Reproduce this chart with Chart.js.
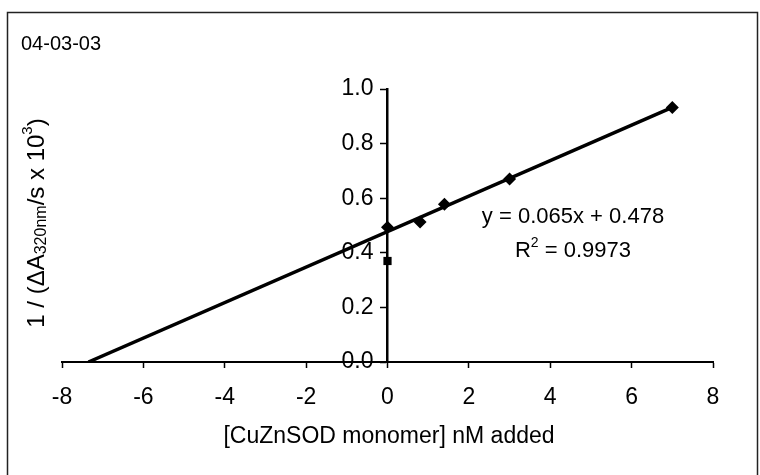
<!DOCTYPE html>
<html>
<head>
<meta charset="utf-8">
<script src="https://cdn.jsdelivr.net/npm/chart.js@4.4.0/dist/chart.umd.min.js"></script>
<style>
  body { margin: 0; background: #fff; }
  canvas { display: block; }
</style>
</head>
<body>
<canvas id="plot" width="760" height="475"></canvas>
<script>
// values
const pointX = [0, 0.8, 1.4, 3.0, 7.0];
const pointY = [0.494, 0.513, 0.578, 0.670, 0.932];
const blankX = [0];
const blankY = [0.37];
const trendX = [-7.35, 7.0];
const trendY = [0.0, 0.933];
const xTicks = [-8, -6, -4, -2, 0, 2, 4, 6, 8];
const yTicks = [0, 0.2, 0.4, 0.6, 0.8, 1.0];

const FONT = "'Liberation Sans', Arial, sans-serif";
Chart.defaults.font.family = FONT;
Chart.defaults.color = '#000';

const toXY = (xs, ys) => xs.map((x, i) => ({ x: x, y: ys[i] }));

// draw runs of text with different sizes / vertical shifts, centred on 0
function drawRuns(ctx, parts) {
    let total = 0;
    parts.forEach(p => {
        ctx.font = p.size + 'px ' + FONT;
        p.w = ctx.measureText(p.t).width;
        total += p.w;
    });
    let px = -total / 2;
    ctx.textAlign = 'left';
    parts.forEach(p => {
        ctx.font = p.size + 'px ' + FONT;
        ctx.fillText(p.t, px, p.dy);
        px += p.w;
    });
}

// extra text: date tag, y tick labels, titles, fit equation, frame
const textPlugin = {
    id: 'texts',
    afterDraw(chart) {
        const ctx = chart.ctx;
        const xs = chart.scales.x, ys = chart.scales.y;
        ctx.save();
        ctx.strokeStyle = '#222';
        ctx.lineWidth = 1.5;
        ctx.strokeRect(7.5, 12.5, 750, 480);

        ctx.fillStyle = '#000';
        ctx.textBaseline = 'middle';
        ctx.textAlign = 'left';
        ctx.font = '20px ' + FONT;
        ctx.fillText('04-03-03', 21, 44);

        // y tick labels sit left of the crossing axis
        ctx.textAlign = 'right';
        ctx.font = '23px ' + FONT;
        const axisX = xs.getPixelForValue(0);
        yTicks.forEach(v => {
            ctx.fillText(v.toFixed(1), axisX - 14, ys.getPixelForValue(v));
        });

        // equation
        ctx.textAlign = 'center';
        ctx.font = '22px ' + FONT;
        ctx.fillText('y = 0.065x + 0.478', 573, 217);
        ctx.save();
        ctx.translate(573, 251);
        drawRuns(ctx, [
            { t: 'R', size: 22, dy: 0 },
            { t: '2', size: 14, dy: -8 },
            { t: ' = 0.9973', size: 22, dy: 0 },
        ]);
        ctx.restore();

        // x axis title
        ctx.textAlign = 'center';
        ctx.font = '23px ' + FONT;
        ctx.fillText('[CuZnSOD monomer] nM added', 389, 437);

        // y axis title, rotated
        ctx.translate(37, 223);
        ctx.rotate(-Math.PI / 2);
        drawRuns(ctx, [
            { t: '1 / (\u0394A', size: 24, dy: 0 },
            { t: '320nm', size: 16, dy: 5 },
            { t: '/s x 10', size: 24, dy: 0 },
            { t: '3', size: 15, dy: -9 },
            { t: ')', size: 24, dy: 0 },
        ]);
        ctx.restore();
    }
};

new Chart(document.getElementById('plot'), {
    type: 'scatter',
    data: {
        datasets: [
            {
                label: 'data',
                data: toXY(pointX, pointY),
                pointStyle: 'rectRot',
                radius: 6.5,
                backgroundColor: '#000',
                borderColor: '#000',
                borderWidth: 0,
            },
            {
                label: 'blank',
                data: toXY(blankX, blankY),
                pointStyle: 'rect',
                radius: 5.8,
                backgroundColor: '#000',
                borderColor: '#000',
                borderWidth: 0,
            },
            {
                label: 'fit',
                type: 'line',
                data: toXY(trendX, trendY),
                borderColor: '#000',
                borderWidth: 3.5,
                pointRadius: 0,
                fill: false,
            },
        ],
    },
    options: {
        responsive: false,
        animation: false,
        layout: { padding: { left: 62, right: 47, top: 89, bottom: 0 } },
        plugins: {
            legend: { display: false },
            tooltip: { enabled: false },
        },
        scales: {
            x: {
                type: 'linear',
                min: -8,
                max: 8,
                afterFit: s => { s.height = 113; },
                afterBuildTicks: s => { s.ticks = xTicks.map(v => ({ value: v })); },
                ticks: { font: { size: 23 }, padding: 16, callback: v => String(v) },
                grid: { drawOnChartArea: false, drawTicks: true, tickLength: 6, color: '#000', tickWidth: 1.5 },
                border: { color: '#000', width: 2 },
            },
            y: {
                type: 'linear',
                position: { x: 0 },
                min: 0,
                max: 1,
                afterBuildTicks: s => { s.ticks = yTicks.map(v => ({ value: v })); },
                ticks: { display: false },
                grid: { drawOnChartArea: false, drawTicks: true, tickLength: 6, color: '#000', tickWidth: 1.5 },
                border: { color: '#000', width: 2.5 },
            },
        },
    },
    plugins: [textPlugin],
});
</script>
</body>
</html>
